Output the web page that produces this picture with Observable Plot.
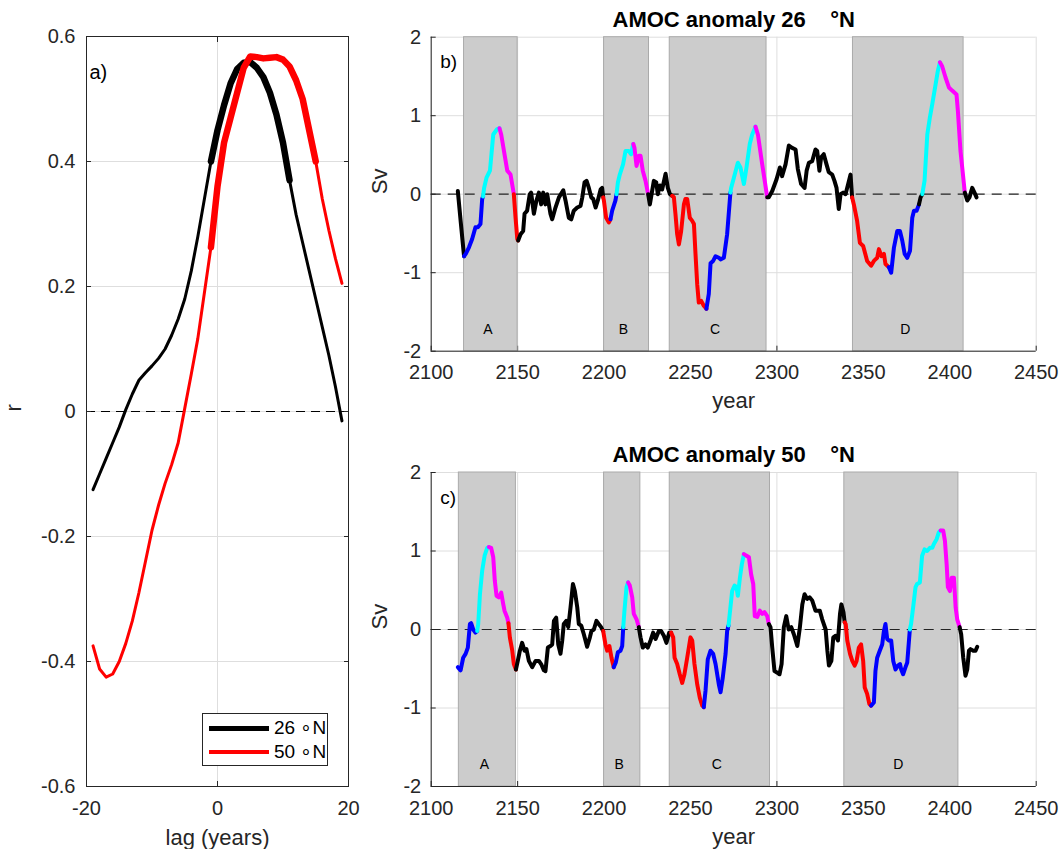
<!DOCTYPE html>
<html><head><meta charset="utf-8">
<script src="https://cdn.jsdelivr.net/npm/d3@7"></script>
<script src="https://cdn.jsdelivr.net/npm/@observablehq/plot@0.6"></script>
<style>
body{margin:0;background:#fff;}
#wrap{position:relative;width:1061px;height:849px;overflow:hidden;font-family:"Liberation Sans",Arial,Helvetica,sans-serif;background:#fff;}
.lg{position:absolute;box-sizing:border-box;border:1px solid #262626;background:#fff;}
.lg .bar{position:absolute;left:6px;width:60px;}
.lg .tx{position:absolute;left:71px;font-size:19px;line-height:20px;color:#000;white-space:nowrap;}
</style></head><body><div id="wrap"></div>
<script>
// ---------- panel a: lagged correlation ----------
const lags = [-19,-18,-17,-16,-15,-14,-13,-12,-11,-10,-9,-8,-7,-6,-5,-4,-3,-2,-1,0,1,2,3,4,5,6,7,8,9,10,11,12,13,14,15,16,17,18,19];
const r26 = [-0.125,-0.10,-0.075,-0.05,-0.025,0.003,0.028,0.05,0.062,0.073,0.085,0.10,0.122,0.148,0.18,0.225,0.28,0.34,0.40,0.45,0.49,0.525,0.548,0.558,0.559,0.55,0.535,0.51,0.475,0.43,0.37,0.315,0.27,0.225,0.18,0.135,0.09,0.04,-0.015];
const r50 = [-0.375,-0.412,-0.425,-0.42,-0.40,-0.371,-0.335,-0.29,-0.24,-0.19,-0.15,-0.115,-0.085,-0.05,0.005,0.06,0.117,0.19,0.263,0.36,0.43,0.47,0.51,0.55,0.568,0.567,0.565,0.566,0.567,0.563,0.552,0.53,0.50,0.45,0.40,0.34,0.29,0.245,0.205];
const sig26 = [-1, 11];
const sig50 = [-1, 15];
const lagDomain = [-20, 20];
const rDomain = [-0.6, 0.6];
const lagTicks = [-20, 0, 20];
const rTicks = [-0.6, -0.4, -0.2, 0, 0.2, 0.4, 0.6];
const legendLabels = ["26 \u2218N", "50 \u2218N"];
const legendColors = ["#000000", "#ff0000"];

// ---------- panels b, c: AMOC anomaly time series [year, Sv] ----------
const amoc26 = [[2115.4,0.04],[2117.2,-0.38],[2119.0,-0.79],[2120.0,-0.76],[2121.8,-0.68],[2123.7,-0.57],[2125.6,-0.42],[2127.0,-0.42],[2128.5,-0.38],[2129.5,-0.06],[2130.0,-0.03],[2130.6,0.08],[2132.0,0.21],[2134.0,0.30],[2135.9,0.76],[2138.2,0.83],[2139.5,0.84],[2140.5,0.76],[2142.4,0.51],[2144.0,0.30],[2145.9,0.25],[2147.2,0.08],[2147.8,0.00],[2148.8,-0.30],[2149.8,-0.57],[2150.3,-0.59],[2151.7,-0.51],[2153.2,-0.47],[2154.0,-0.25],[2155.5,-0.21],[2157.0,0.00],[2157.8,0.02],[2159.4,-0.25],[2160.9,-0.08],[2162.3,0.02],[2163.6,-0.13],[2164.8,0.02],[2166.1,-0.13],[2167.1,0.00],[2169.0,-0.25],[2170.0,-0.32],[2171.9,-0.17],[2173.9,-0.04],[2176.4,0.05],[2177.7,-0.08],[2179.6,-0.30],[2181.0,-0.32],[2182.5,-0.21],[2184.5,-0.17],[2186.4,-0.15],[2187.4,-0.04],[2188.7,0.15],[2189.9,0.17],[2191.2,0.08],[2192.6,-0.04],[2193.7,-0.06],[2195.1,-0.17],[2196.4,-0.08],[2198.0,0.06],[2198.9,0.08],[2199.5,-0.04],[2199.9,-0.08],[2201.2,-0.30],[2202.8,-0.36],[2203.7,-0.32],[2204.7,-0.21],[2206.6,-0.08],[2207.2,0.00],[2208.0,0.15],[2209.1,0.25],[2211.0,0.38],[2212.4,0.55],[2214.3,0.55],[2215.7,0.51],[2216.9,0.64],[2217.6,0.59],[2218.8,0.36],[2220.1,0.49],[2221.1,0.49],[2222.4,0.30],[2224.0,0.17],[2225.5,0.00],[2226.5,-0.13],[2227.8,0.04],[2228.8,0.17],[2230.2,0.15],[2231.1,0.00],[2232.3,0.11],[2233.6,0.06],[2235.6,0.26],[2236.9,0.08],[2238.1,0.00],[2239.4,-0.02],[2240.4,-0.04],[2241.3,-0.25],[2242.3,-0.51],[2243.3,-0.64],[2244.6,-0.47],[2246.2,-0.13],[2247.1,-0.06],[2248.1,-0.06],[2249.6,-0.30],[2251.0,-0.34],[2252.0,-0.38],[2252.9,-0.76],[2253.9,-1.15],[2254.8,-1.38],[2256.2,-1.36],[2257.7,-1.42],[2259.2,-1.46],[2260.6,-1.27],[2261.6,-0.88],[2263.1,-0.85],[2264.5,-0.79],[2266.4,-0.81],[2267.4,-0.83],[2269.3,-0.81],[2271.2,-0.51],[2273.1,0.02],[2273.5,0.08],[2275.1,0.21],[2277.4,0.40],[2278.9,0.34],[2280.9,0.13],[2282.4,0.34],[2284.3,0.64],[2285.7,0.76],[2287.6,0.86],[2289.0,0.76],[2291.5,0.38],[2294.4,-0.04],[2295.3,-0.04],[2297.3,0.04],[2299.8,0.19],[2301.7,0.34],[2303.0,0.23],[2305.0,0.38],[2306.9,0.62],[2308.8,0.59],[2310.8,0.57],[2312.1,0.32],[2314.0,0.13],[2316.0,0.08],[2317.2,0.30],[2318.5,0.40],[2320.4,0.42],[2322.3,0.57],[2323.3,0.55],[2324.6,0.30],[2325.6,0.47],[2327.1,0.51],[2328.7,0.38],[2330.0,0.28],[2332.0,0.25],[2333.3,0.17],[2334.5,0.08],[2335.8,-0.19],[2336.8,0.00],[2338.3,0.02],[2339.7,0.00],[2341.0,0.11],[2342.6,0.25],[2343.5,-0.04],[2344.5,-0.13],[2346.4,-0.34],[2348.0,-0.62],[2349.9,-0.66],[2352.2,-0.85],[2354.5,-0.91],[2356.1,-0.85],[2358.0,-0.81],[2359.0,-0.70],[2360.5,-0.79],[2361.9,-0.76],[2362.8,-0.89],[2364.8,-0.93],[2366.1,-1.00],[2367.7,-0.68],[2369.6,-0.47],[2371.2,-0.47],[2372.5,-0.59],[2373.9,-0.76],[2375.4,-0.81],[2377.0,-0.72],[2378.3,-0.30],[2379.3,-0.21],[2380.8,-0.21],[2382.2,-0.13],[2383.1,-0.04],[2384.1,0.00],[2385.4,0.17],[2387.0,0.76],[2388.5,0.98],[2389.9,1.15],[2391.8,1.40],[2393.1,1.57],[2394.3,1.68],[2395.6,1.63],[2397.5,1.49],[2399.5,1.36],[2401.4,1.32],[2403.9,1.27],[2404.7,1.06],[2406.2,0.55],[2407.2,0.34],[2408.7,0.02],[2410.1,-0.08],[2411.4,-0.04],[2413.0,0.08],[2414.3,0.02],[2415.5,-0.04]];
const amoc50 = [[2115.4,-0.48],[2117.0,-0.52],[2118.5,-0.36],[2119.9,-0.31],[2121.2,-0.23],[2122.4,0.07],[2123.1,0.08],[2124.3,0.00],[2125.6,-0.04],[2126.6,-0.02],[2127.2,0.07],[2128.2,0.45],[2129.5,0.75],[2130.9,0.94],[2132.4,1.04],[2133.4,1.05],[2134.7,1.04],[2135.9,0.92],[2136.8,0.62],[2137.8,0.43],[2139.1,0.41],[2140.5,0.47],[2141.7,0.32],[2142.4,0.24],[2144.0,0.15],[2144.7,0.08],[2145.5,-0.10],[2146.9,-0.27],[2147.8,-0.44],[2149.0,-0.51],[2150.1,-0.40],[2151.3,-0.27],[2152.6,-0.17],[2154.0,-0.27],[2155.1,-0.25],[2156.5,-0.40],[2158.4,-0.48],[2160.4,-0.40],[2162.3,-0.40],[2163.6,-0.44],[2165.2,-0.52],[2166.1,-0.53],[2167.5,-0.23],[2169.0,-0.21],[2170.0,-0.19],[2171.0,0.11],[2172.3,0.15],[2173.5,-0.19],[2174.8,-0.31],[2175.8,-0.14],[2176.7,0.07],[2178.1,0.11],[2179.3,0.03],[2180.6,0.28],[2182.0,0.58],[2183.1,0.49],[2184.5,0.28],[2185.4,0.07],[2186.8,0.05],[2188.3,-0.06],[2190.2,-0.22],[2191.8,-0.10],[2192.7,-0.02],[2194.1,0.00],[2195.6,0.11],[2196.9,0.07],[2198.3,0.03],[2199.5,-0.02],[2200.8,-0.19],[2201.8,-0.27],[2203.1,-0.21],[2204.3,-0.36],[2205.6,-0.48],[2206.8,-0.42],[2208.0,-0.29],[2209.5,-0.27],[2210.5,-0.21],[2211.1,0.03],[2211.8,0.24],[2213.0,0.54],[2213.9,0.60],[2214.9,0.56],[2216.3,0.41],[2217.2,0.20],[2218.8,0.13],[2220.1,0.03],[2221.1,-0.10],[2222.4,-0.23],[2224.0,-0.19],[2225.3,-0.23],[2226.9,-0.14],[2228.4,-0.04],[2229.8,-0.12],[2231.7,-0.02],[2233.0,-0.02],[2234.6,-0.08],[2236.1,-0.17],[2237.7,-0.04],[2238.8,-0.04],[2240.0,-0.10],[2240.8,-0.36],[2242.3,-0.44],[2243.8,-0.57],[2245.2,-0.68],[2246.5,-0.57],[2248.1,-0.36],[2250.0,-0.10],[2251.0,-0.14],[2252.3,-0.44],[2253.9,-0.70],[2255.4,-0.87],[2256.8,-0.97],[2257.7,-0.99],[2258.7,-0.78],[2260.0,-0.38],[2261.6,-0.27],[2263.1,-0.31],[2264.5,-0.44],[2266.4,-0.70],[2267.4,-0.80],[2268.7,-0.61],[2270.3,-0.31],[2271.2,-0.02],[2272.0,0.05],[2273.1,0.28],[2274.1,0.49],[2275.5,0.56],[2276.6,0.54],[2277.4,0.43],[2278.6,0.66],[2279.7,0.83],[2280.9,0.96],[2282.4,0.94],[2283.8,0.92],[2285.1,0.70],[2286.3,0.58],[2287.2,0.17],[2288.6,0.16],[2290.1,0.24],[2291.5,0.20],[2292.8,0.22],[2294.4,0.17],[2295.3,0.07],[2296.3,0.03],[2297.3,-0.23],[2298.6,-0.53],[2300.2,-0.55],[2301.5,-0.57],[2302.7,-0.44],[2304.0,0.03],[2305.4,0.17],[2306.8,0.00],[2308.3,0.03],[2309.8,-0.06],[2311.8,-0.21],[2313.3,0.03],[2314.7,0.32],[2316.0,0.45],[2317.5,0.39],[2318.9,0.41],[2320.4,0.37],[2322.3,0.24],[2323.3,0.24],[2324.8,0.24],[2326.2,0.13],[2328.2,0.00],[2329.2,-0.27],[2330.1,-0.46],[2331.5,-0.40],[2332.6,-0.10],[2334.0,-0.08],[2335.3,-0.14],[2336.5,0.20],[2337.3,0.32],[2338.5,0.22],[2339.2,0.09],[2339.8,0.07],[2340.7,-0.14],[2342.3,-0.31],[2343.6,-0.40],[2345.0,-0.46],[2346.1,-0.40],[2347.4,-0.23],[2348.7,-0.19],[2349.9,-0.40],[2350.8,-0.74],[2352.2,-0.82],[2353.5,-0.95],[2354.5,-0.97],[2356.1,-0.93],[2357.0,-0.53],[2358.0,-0.36],[2359.5,-0.27],[2360.9,-0.19],[2361.9,-0.02],[2362.8,0.07],[2363.8,-0.12],[2364.8,-0.14],[2366.1,-0.14],[2367.3,-0.40],[2368.6,-0.51],[2370.0,-0.46],[2371.2,-0.44],[2371.9,-0.51],[2373.0,-0.57],[2374.4,-0.48],[2375.4,-0.42],[2376.9,0.00],[2377.6,0.07],[2378.8,0.28],[2380.2,0.54],[2381.1,0.58],[2382.7,0.60],[2384.0,0.94],[2385.4,1.02],[2386.9,1.00],[2388.5,1.04],[2389.9,1.04],[2390.8,1.09],[2392.4,1.15],[2393.7,1.24],[2394.7,1.26],[2396.2,1.26],[2397.2,1.13],[2398.2,0.83],[2398.9,0.54],[2400.1,0.49],[2401.1,0.66],[2402.4,0.66],[2403.4,0.28],[2404.3,0.13],[2405.7,0.03],[2406.6,-0.06],[2407.8,-0.36],[2409.1,-0.59],[2410.1,-0.51],[2411.1,-0.27],[2412.0,-0.25],[2413.6,-0.27],[2414.9,-0.27],[2415.9,-0.22]];
// phase of each stretch: [start year, phase]
const phases26 = [[2115.4,"k"],[2119.0,"b"],[2130.0,"c"],[2139.5,"m"],[2147.8,"r"],[2150.3,"k"],[2199.5,"r"],[2203.7,"b"],[2207.2,"c"],[2216.9,"m"],[2225.5,"k"],[2239.4,"r"],[2259.2,"b"],[2273.1,"c"],[2287.6,"m"],[2294.4,"k"],[2343.5,"r"],[2364.8,"b"],[2382.2,"k"],[2384.1,"c"],[2394.3,"m"],[2408.7,"k"]];
const phases50 = [[2115.4,"b"],[2126.6,"c"],[2133.4,"m"],[2144.7,"r"],[2149.0,"k"],[2199.5,"r"],[2205.6,"b"],[2211.1,"c"],[2213.9,"m"],[2220.1,"k"],[2238.8,"r"],[2257.7,"b"],[2272.0,"c"],[2280.9,"m"],[2295.3,"k"],[2339.2,"r"],[2354.5,"b"],[2376.9,"c"],[2394.7,"m"],[2405.7,"k"]];
const regions26 = [{label:"A",start:2119,end:2150},{label:"B",start:2200,end:2226},{label:"C",start:2238,end:2294},{label:"D",start:2344,end:2408}];
const regions50 = [{label:"A",start:2116,end:2149},{label:"B",start:2200,end:2221},{label:"C",start:2238,end:2296},{label:"D",start:2339,end:2405}];
const phaseKeys = ["k","b","c","m","r"];
const phaseColors = ["#000000","#0000ff","#00ffff","#ff00ff","#ff0000"];
const yearDomain = [2100, 2450];
const svDomain = [-2, 2];
const yearTicks = [2100, 2150, 2200, 2250, 2300, 2350, 2400, 2450];
const svTicks = [-2, -1, 0, 1, 2];
const title26 = "AMOC anomaly 26\u00a0\u00a0\u00a0\u00a0\u00b0N";
const title50 = "AMOC anomaly 50\u00a0\u00a0\u00a0\u00a0\u00b0N";

const FONT = '"Liberation Sans", Arial, Helvetica, sans-serif';
const AX = "#262626", GRID = "#dedede";
const wrap = document.getElementById("wrap");

function styleAt(left, top) {
  return {fontFamily: FONT, fontSize: "20px", color: AX, background: "none",
          position: "absolute", left: left + "px", top: top + "px", overflow: "visible"};
}

// ---------- panel a ----------
const rowsA26 = lags.map((lag, i) => ({lag, r: r26[i]}));
const rowsA50 = lags.map((lag, i) => ({lag, r: r50[i]}));
const thick26 = rowsA26.filter(d => d.lag >= sig26[0] && d.lag <= sig26[1]);
const thick50 = rowsA50.filter(d => d.lag >= sig50[0] && d.lag <= sig50[1]);

const plotA = Plot.plot({
  width: 360, height: 849,
  marginLeft: 86, marginRight: 12, marginTop: 36, marginBottom: 63,
  x: {domain: lagDomain, label: null},
  y: {domain: rDomain, label: null},
  style: styleAt(0, 0),
  marks: [
    Plot.gridX(lagTicks, {stroke: GRID, strokeOpacity: 1}),
    Plot.gridY(rTicks, {stroke: GRID, strokeOpacity: 1}),
    Plot.ruleY([0], {stroke: "#000", strokeWidth: 1.2, strokeDasharray: "9,6"}),
    Plot.line(rowsA26, {x: "lag", y: "r", stroke: "#000", strokeWidth: 3, strokeLinejoin: "round"}),
    Plot.line(rowsA50, {x: "lag", y: "r", stroke: "#ff0000", strokeWidth: 3, strokeLinejoin: "round"}),
    Plot.line(thick26, {x: "lag", y: "r", stroke: "#000", strokeWidth: 6.5, strokeLinejoin: "round"}),
    Plot.line(thick50, {x: "lag", y: "r", stroke: "#ff0000", strokeWidth: 6.5, strokeLinejoin: "round"}),
    Plot.frame({stroke: AX}),
    Plot.axisX({ticks: lagTicks, anchor: "bottom", tickSize: 5, dy: -5, tickFormat: () => "", stroke: AX, label: null}),
    Plot.axisX({ticks: lagTicks, anchor: "top", tickSize: 5, dy: 5, tickFormat: () => "", stroke: AX, label: null}),
    Plot.axisY({ticks: rTicks, anchor: "left", tickSize: 5, dx: 5, tickFormat: () => "", stroke: AX, label: null}),
    Plot.axisY({ticks: rTicks, anchor: "right", tickSize: 5, dx: -5, tickFormat: () => "", stroke: AX, label: null}),
    Plot.axisX({ticks: lagTicks, anchor: "bottom", tickSize: 0, tickPadding: 14, tickFormat: d => String(d), fontSize: 20, fill: AX, label: null}),
    Plot.axisY({ticks: rTicks, anchor: "left", tickSize: 0, tickPadding: 11, tickFormat: d => String(d), fontSize: 20, fill: AX, label: null}),
    Plot.text(["lag (years)"], {text: d => d, frameAnchor: "bottom", lineAnchor: "middle", dy: 51, fontSize: 22, fill: AX}),
    Plot.text(["r"], {text: d => d, frameAnchor: "left", lineAnchor: "middle", rotate: -90, dx: -72.7, fontSize: 22, fill: AX}),
    Plot.text(["a)"], {text: d => d, frameAnchor: "top-left", lineAnchor: "middle", textAnchor: "start", dx: 3, dy: 36, fontSize: 20, fill: "#000"})
  ]
});
wrap.appendChild(plotA);

// legend for panel a
const lg = document.createElement("div");
lg.className = "lg";
Object.assign(lg.style, {left: "202px", top: "713px", width: "126px", height: "53px"});
legendLabels.forEach((lab, i) => {
  const cy = 14 + i * 24;
  const bar = document.createElement("div");
  bar.className = "bar";
  Object.assign(bar.style, {top: (cy - 2.5) + "px", height: (i === 0 ? 5 : 4) + "px", background: legendColors[i]});
  const tx = document.createElement("div");
  tx.className = "tx";
  tx.style.top = (cy - 10) + "px";
  tx.textContent = lab;
  lg.appendChild(bar); lg.appendChild(tx);
});
wrap.appendChild(lg);

// ---------- panels b, c ----------
function buildRuns(series, breaks) {
  const phaseAt = t => { let p = breaks[0][1]; for (const [s, ph] of breaks) if (t >= s) p = ph; return p; };
  const rows = []; let run = -1, prev = null;
  for (let i = 0; i < series.length - 1; i++) {
    const [x0, y0] = series[i], [x1, y1] = series[i + 1];
    const ph = phaseAt((x0 + x1) / 2);
    if (ph !== prev) { run++; prev = ph; rows.push({year: x0, sv: y0, run, ph}); }
    rows.push({year: x1, sv: y1, run, ph});
  }
  return rows;
}

function amocPanel({series, breaks, regions, title, tag, top, height, marginTop, marginBottom}) {
  return Plot.plot({
    width: 701, height,
    marginLeft: 70.7, marginRight: 25.3, marginTop, marginBottom,
    x: {domain: yearDomain, label: null},
    y: {domain: svDomain, label: null},
    color: {domain: phaseKeys, range: phaseColors},
    style: styleAt(360, top),
    marks: [
      Plot.gridX(yearTicks, {stroke: GRID, strokeOpacity: 1}),
      Plot.gridY(svTicks, {stroke: GRID, strokeOpacity: 1}),
      Plot.axisX({ticks: yearTicks, anchor: "bottom", tickSize: 5, dy: -5, tickFormat: () => "", stroke: AX, label: null}),
      Plot.axisY({ticks: svTicks, anchor: "left", tickSize: 5, dx: 5, tickFormat: () => "", stroke: AX, label: null}),
      Plot.rect(regions, {x1: "start", x2: "end", fill: "#cccccc", stroke: "#aaaaaa", strokeWidth: 1}),
      Plot.ruleY([0], {stroke: "#222", strokeWidth: 1.2, strokeDasharray: "10,7"}),
      Plot.text(regions, {x: d => (d.start + d.end) / 2, text: "label", frameAnchor: "bottom", lineAnchor: "middle", dx: -3, dy: -22, fontSize: 14, fill: "#000"}),
      Plot.line(buildRuns(series, breaks), {x: "year", y: "sv", z: "run", stroke: "ph", strokeWidth: 4, strokeLinejoin: "round", strokeLinecap: "round"}),
      Plot.ruleX([yearDomain[0]], {stroke: AX}),
      Plot.ruleY([svDomain[0]], {stroke: AX}),
      Plot.axisX({ticks: yearTicks, anchor: "bottom", tickSize: 0, tickPadding: 14, tickFormat: d => String(d), fontSize: 20, fill: AX, label: null}),
      Plot.axisY({ticks: svTicks, anchor: "left", tickSize: 0, tickPadding: 10, tickFormat: d => String(d), fontSize: 20, fill: AX, label: null}),
      Plot.text(["year"], {text: d => d, frameAnchor: "bottom", lineAnchor: "middle", dy: 50, fontSize: 22, fill: AX}),
      Plot.text(["Sv"], {text: d => d, frameAnchor: "left", lineAnchor: "middle", rotate: -90, dx: -51.4, fontSize: 22, fill: AX}),
      Plot.text([title], {text: d => d, frameAnchor: "top", lineAnchor: "middle", dy: -17.4, fontSize: 22, fontWeight: "bold", fill: "#000"}),
      Plot.text([tag], {text: d => d, frameAnchor: "top-left", lineAnchor: "middle", textAnchor: "start", dx: 9, dy: 25, fontSize: 19, fill: "#000"})
    ]
  });
}

wrap.appendChild(amocPanel({series: amoc26, breaks: phases26, regions: regions26, title: title26, tag: "b)",
  top: 0, height: 420, marginTop: 36.7, marginBottom: 69.3}));
wrap.appendChild(amocPanel({series: amoc50, breaks: phases50, regions: regions50, title: title50, tag: "c)",
  top: 430, height: 419, marginTop: 42, marginBottom: 63}));
</script></body></html>
